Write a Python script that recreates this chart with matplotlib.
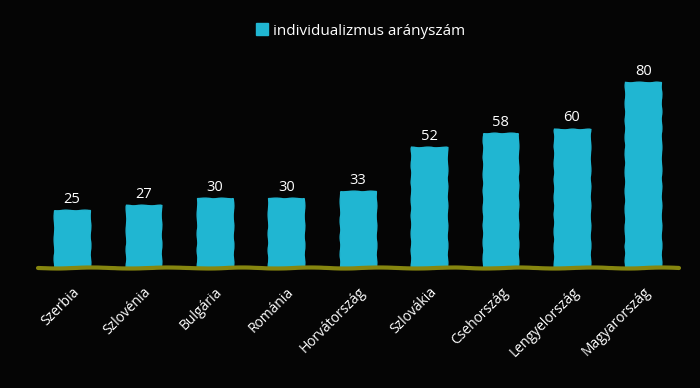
"""
Individualizmus arányszám bar chart, hand-drawn look on black
"""

import matplotlib
matplotlib.use("Agg")
import matplotlib.pyplot as plt
from matplotlib.patches import Patch

countries = ["Szerbia", "Szlovénia", "Bulgária", "Románia", "Horvátország",
             "Szlovákia", "Csehország", "Lengyelország", "Magyarország"]
values = [25, 27, 30, 30, 33, 52, 58, 60, 80]
series_name = "individualizmus arányszám"

bar_color = "#20b6d2"
base_color = "#86860f"
bg = "#050505"

plt.rcParams['font.family'] = ['Open Sans', 'DejaVu Sans']

fig = plt.figure(figsize=(7, 3.88), dpi=100, facecolor=bg)
ax = fig.add_axes([0.052, 0.309, 0.918, 0.539])
ax.set_facecolor(bg)

x = range(len(countries))
bars = ax.bar(x, values, width=0.5, color=bar_color, edgecolor=bar_color, linewidth=1.0)
for b in bars:
    b.set_sketch_params(0.35, 20, 2)

# value labels
for xi, v in zip(x, values):
    ax.text(xi, v + 1.5, str(v), color="white", ha="center", va="bottom", fontsize=10.5)

# baseline
base, = ax.plot([-0.48, 8.5], [0, 0], color=base_color, linewidth=3, zorder=3,
                solid_capstyle="round", clip_on=False)
base.set_sketch_params(0.5, 80, 2)

ax.set_xlim(-0.5, 8.5)
ax.set_ylim(0, 90)
ax.set_xticks(list(x))
ax.set_xticklabels(countries, rotation=45, ha="right", rotation_mode="anchor",
                   color="white", fontsize=10)
ax.tick_params(axis="x", length=0, pad=12)
ax.set_yticks([])
for s in ax.spines.values():
    s.set_visible(False)

fig.legend(handles=[Patch(color=bar_color, label=series_name)], loc="upper center",
           bbox_to_anchor=(0.515, 0.975), frameon=False, labelcolor="white",
           fontsize=11, handlelength=0.8, handleheight=0.8, handletextpad=0.3)

fig.savefig("out.png", dpi=100, facecolor=bg)
